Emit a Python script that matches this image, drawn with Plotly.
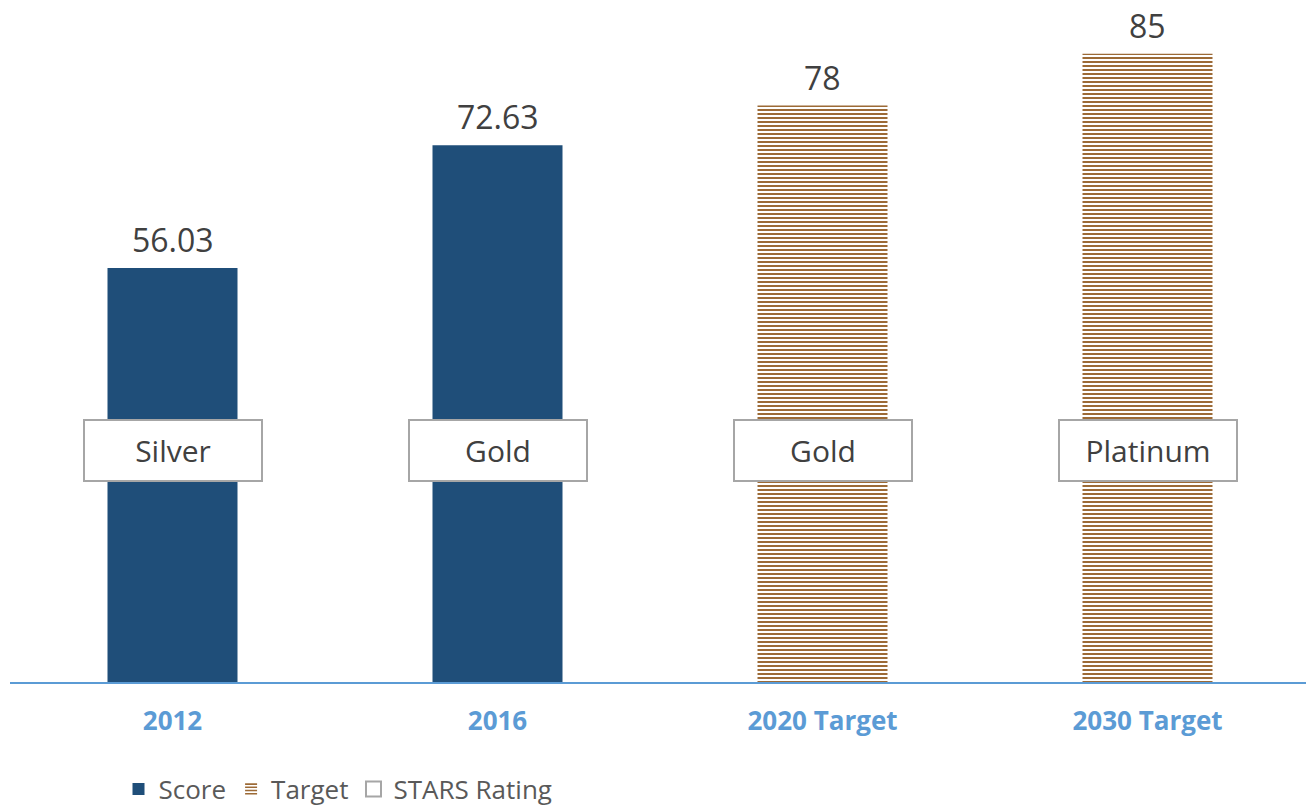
import plotly.graph_objects as go

categories = ["2012", "2016", "2020 Target", "2030 Target"]
score_values = [56.03, 72.63, None, None]
target_values = [None, None, 78, 85]
value_labels = ["56.03", "72.63", "78", "85"]
stars_ratings = ["Silver", "Gold", "Gold", "Platinum"]
rating_label_level = 31.3

NAVY = "#1F4E79"
BROWN = "#9C6A36"
GREY_TEXT = "#404040"
AXIS_BLUE = "#5B9BD5"
FONT = "Open Sans"

xpos = list(range(len(categories)))

fig = go.Figure()
fig.add_trace(go.Bar(
    x=xpos, y=score_values, name="Score", width=0.4,
    marker=dict(color=NAVY, line=dict(width=0)),
))
fig.add_trace(go.Bar(
    x=xpos, y=target_values, name="Target", width=0.4,
    marker=dict(color="white", line=dict(width=0),
                pattern=dict(shape="-", fgcolor=BROWN, bgcolor="white",
                             fgopacity=1, size=4, solidity=0.5, fillmode="replace")),
))
fig.add_trace(go.Scatter(
    x=[None], y=[None], mode="markers", name="STARS Rating",
    marker=dict(symbol="square-open", color="#A6A6A6", size=15,
                line=dict(width=2, color="#A6A6A6")),
))

annotations = []
values = [s if s is not None else t for s, t in zip(score_values, target_values)]
for i, (v, lab) in enumerate(zip(values, value_labels)):
    annotations.append(dict(
        x=i, y=v, xref="x", yref="y", text=lab, showarrow=False,
        yanchor="bottom", yshift=13, height=30, borderpad=0,
        font=dict(family=FONT, size=32, color=GREY_TEXT),
    ))
for i, r in enumerate(stars_ratings):
    annotations.append(dict(
        x=i, y=rating_label_level, xref="x", yref="y", text=r, showarrow=False,
        bgcolor="white", bordercolor="#A6A6A6", borderwidth=2, borderpad=2,
        width=172, height=55,
        font=dict(family=FONT, size=30, color=GREY_TEXT),
    ))

fig.update_layout(
    width=1314, height=809,
    margin=dict(l=2, r=4, t=0, b=135, autoexpand=False),
    paper_bgcolor="white", plot_bgcolor="white",
    barmode="overlay",
    font=dict(family=FONT, color=GREY_TEXT),
    showlegend=True,
    legend=dict(orientation="h", xref="container", yref="container",
                x=0.0841, xanchor="left", y=0.0346, yanchor="middle",
                font=dict(family=FONT, size=26, color="#595959"),
                itemwidth=30, traceorder="normal"),
    annotations=annotations,
)
fig.update_xaxes(
    range=[-0.5, 3.5246], automargin=False,
    tickmode="array", tickvals=xpos, ticktext=categories,
    showline=True, linecolor=AXIS_BLUE, linewidth=2, showgrid=False, zeroline=False,
    ticks="", tickfont=dict(family=FONT, size=26, color=AXIS_BLUE, weight="bold"),
    ticklabelstandoff=15,
)
fig.update_yaxes(
    range=[0, 91.2], visible=False, showgrid=False, zeroline=False,
)

fig.write_html("out.html")
